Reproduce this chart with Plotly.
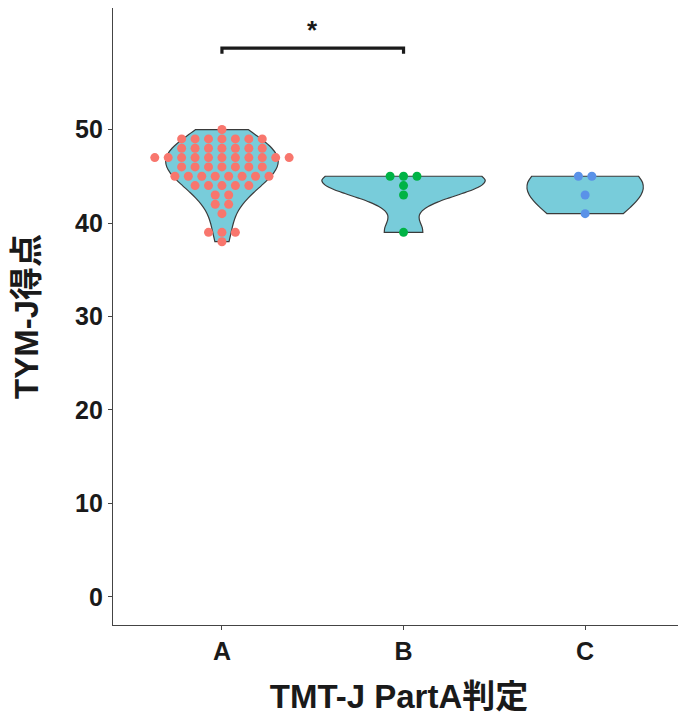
import numpy as np
import plotly.graph_objects as go

# ---- data ----
categories = ["A", "B", "C"]
group_a_values = [50] * 1 + [49] * 7 + [48] * 7 + [47] * 11 + [46] * 7 + [45] * 8 + \
                 [44] * 5 + [43] * 2 + [42] * 2 + [41] * 1 + [39] * 3 + [38] * 1
group_b_values = [45, 45, 45, 44, 43, 39]
group_c_values = [45, 45, 43, 41]
y_tick_values = [0, 10, 20, 30, 40, 50]
sig_pair = ("A", "B")
sig_label = "*"
sig_level = 58.7

groups = [group_a_values, group_b_values, group_c_values]
dot_colors = ["#F8766D", "#00B345", "#5A92E8"]
violin_widths = [0.62, 0.9, 0.64]
bw_adjust = [1.9, 1.7, 1.7]
FILL = "#78CCDA"
FONT = "Liberation Sans, Arial, Noto Sans CJK JP, sans-serif"


def nrd0(v):
    v = np.asarray(v, float)
    sd = v.std(ddof=1)
    q1, q3 = np.percentile(v, [25, 75])
    lo = min(sd, (q3 - q1) / 1.34) if q3 > q1 else sd
    return 0.9 * lo * len(v) ** -0.2


fig = go.Figure()
dot_step = 0.074
for i, (cat, vals) in enumerate(zip(categories, groups)):
    fig.add_trace(go.Violin(
        x=[i] * len(vals), y=vals, name=cat,
        width=violin_widths[i], scalemode="width",
        spanmode="hard", bandwidth=nrd0(vals) * bw_adjust[i],
        fillcolor=FILL, line=dict(color="#3a3a3a", width=1.2),
        points=False, box_visible=False, meanline_visible=False,
        hoverinfo="skip", showlegend=False, opacity=1,
    ))

for i, (cat, vals) in enumerate(zip(categories, groups)):
    xs, ys = [], []
    for v in sorted(set(vals), reverse=True):
        k = vals.count(v)
        for j in range(k):
            xs.append(i + (j - (k - 1) / 2) * dot_step)
            ys.append(v)
    fig.add_trace(go.Scatter(
        x=xs, y=ys, mode="markers",
        marker=dict(color=dot_colors[i], size=9, line=dict(width=0)),
        showlegend=False, hoverinfo="skip",
    ))

xa = categories.index(sig_pair[0])
xb = categories.index(sig_pair[1])
fig.add_shape(type="path",
              path=f"M {xa},{sig_level - 0.6} L {xa},{sig_level} L {xb},{sig_level} L {xb},{sig_level - 0.6}",
              xref="x", yref="y", line=dict(color="#1a1a1a", width=3.2))
fig.add_annotation(x=(xa + xb) / 2, y=sig_level + 2.0, text=sig_label, showarrow=False,
                   xref="x", yref="y", font=dict(size=26, color="#1a1a1a", family=FONT, weight="bold"))

# page body adds an 8px offset, so the figure is sized to fit the window
fig.update_layout(
    width=678, height=707,
    margin=dict(l=105, r=1, t=0, b=90, autoexpand=False),
    plot_bgcolor="white", paper_bgcolor="white",
    violinmode="overlay",
    font=dict(family=FONT, color="#1a1a1a"),
)
fig.update_xaxes(
    range=[-0.6, 2.55], tickmode="array", tickvals=[0, 1, 2], ticktext=categories,
    showgrid=False, zeroline=False, showline=True, linecolor="#444", linewidth=1.2,
    ticks="outside", ticklen=4, tickcolor="#444", automargin=False,
    tickfont=dict(size=25, family=FONT, weight="bold", color="#1a1a1a"),
    title=dict(text="TMT-J PartA判定", standoff=20,
               font=dict(size=33, family=FONT, weight="bold", color="#1a1a1a")),
)
fig.update_yaxes(
    range=[-3, 63], tickmode="array", tickvals=y_tick_values,
    showgrid=False, zeroline=False, showline=True, linecolor="#444", linewidth=1.2,
    ticks="outside", ticklen=4, tickcolor="#444", automargin=False,
    tickfont=dict(size=25, family=FONT, weight="bold", color="#1a1a1a"),
    title=dict(text="TYM-J得点", standoff=26,
               font=dict(size=33, family=FONT, weight="bold", color="#1a1a1a")),
)

fig.write_html("out.html")
